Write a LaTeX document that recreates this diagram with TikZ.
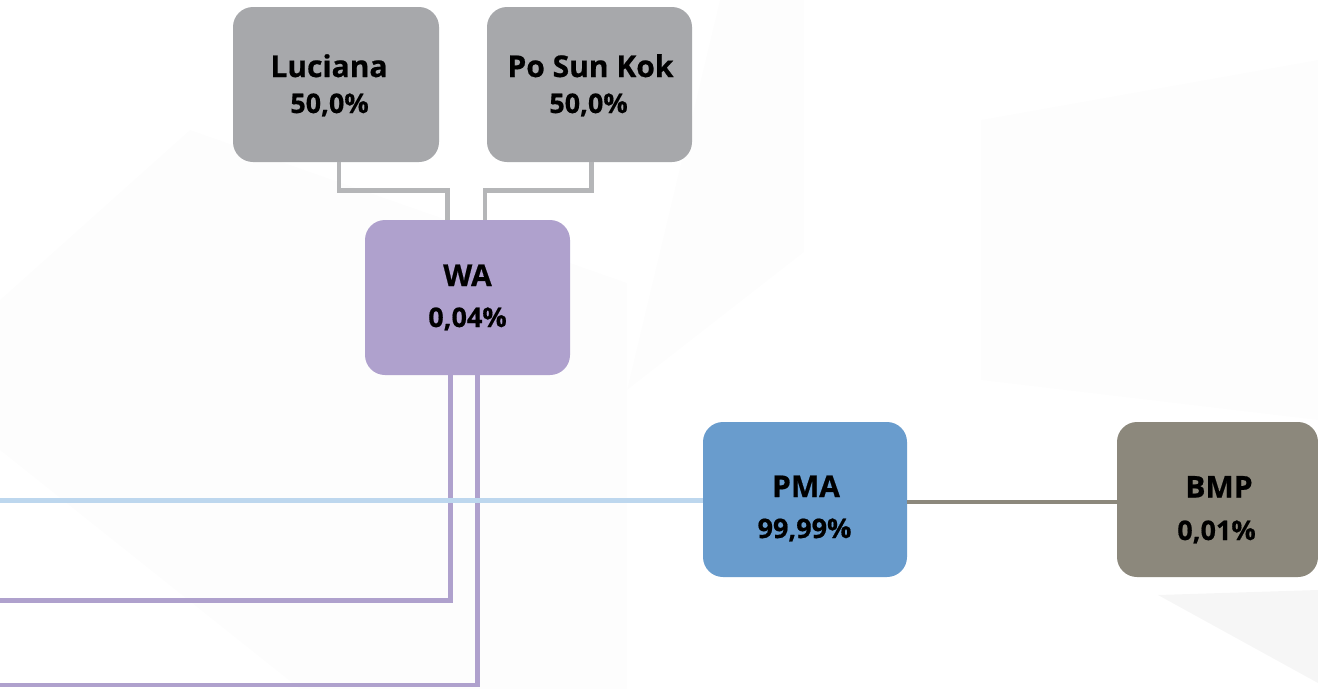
\documentclass[tikz,border=0pt]{standalone}
\usepackage{fontspec}
\setmainfont{Open Sans}[BoldFeatures={FakeBold=0.6}]
\begin{document}
\begin{tikzpicture}[x=1pt,y=-1pt,
  box/.style={rounded corners=20pt, minimum width=205pt, minimum height=155pt,
    inner sep=0pt, outer sep=0pt},
  greybox/.style={box, fill=boxgrey},
  purplebox/.style={box, fill=boxpurple},
  bluebox/.style={box, fill=boxblue},
  taupebox/.style={box, fill=boxtaupe},
  nametxt/.style={anchor=base, inner sep=0pt, font=\bfseries\fontsize{30}{32}\selectfont},
  pcttxt/.style={anchor=base, inner sep=0pt, font=\bfseries\fontsize{27}{29}\selectfont},
  link/.style={line width=4.8pt, line join=miter},
  greylink/.style={link, draw=linegrey},
  purplelink/.style={link, draw=boxpurple},
  bluelink/.style={link, draw=lineblue},
  taupelink/.style={link, draw=boxtaupe},
  facet/.style={fill=black, draw=none}
]
\definecolor{boxgrey}{HTML}{A7A8AB}
\definecolor{linegrey}{HTML}{B5B6B8}
\definecolor{boxpurple}{HTML}{AFA1CD}
\definecolor{boxblue}{HTML}{699CCD}
\definecolor{lineblue}{HTML}{BDD7EE}
\definecolor{boxtaupe}{HTML}{8C887C}

% canvas
\fill[white] (0,0) rectangle (1318,689);
\useasboundingbox (0,0) rectangle (1318,689);

% faint faceted backdrop
\fill[facet, opacity=0.035] (1158,595) -- (1318,590) -- (1318,683) -- cycle;
\fill[facet, opacity=0.008] (627,390) -- (804,252) -- (804,0) -- (720,0) -- cycle;
\fill[facet, opacity=0.006] (627,283) -- (627,689) -- (300,689) -- (0,450) -- (0,300) -- (190,130) -- cycle;
\fill[facet, opacity=0.006] (981,120) -- (1318,60) -- (1318,420) -- (981,380) -- cycle;

% entities
\node[greybox, minimum width=206pt] (luc) at (336,84.5) {};
\node[greybox] (psk) at (589.5,84.5) {};
\node[purplebox] (wa) at (467.5,297.5) {};
\node[bluebox, minimum width=204pt] (pma) at (805,499.5) {};
\node[taupebox, minimum width=201pt] (bmp) at (1217.5,499.5) {};

% open ends at the left margin
\coordinate (endblue) at (0,500.5);
\coordinate (endwa1) at (0,600.5);
\coordinate (endwa2) at (0,685);

% shareholders of WA
\draw[greylink] ([xshift=3pt]luc.south) -- ++(0,28.5) -| ([xshift=-20pt]wa.north);
\draw[greylink] ([xshift=2pt]psk.south) -- ++(0,28.5) -| ([xshift=17.5pt]wa.north);

% WA holdings
\draw[purplelink] ([xshift=-16.7pt]wa.south) |- (endwa1);
\draw[purplelink] ([xshift=10pt]wa.south) |- (endwa2);

% PMA links
\draw[bluelink] ([yshift=-1pt]pma.west) -- (endblue);
\draw[taupelink] ([yshift=-2.5pt]pma.east) -- ([yshift=-2.5pt]bmp.west);

% labels
\node[nametxt] (luc-n) at (329,77) {Luciana};
\node[pcttxt] (luc-p) at (329.5,113) {50,0\%};
\node[nametxt] (psk-n) at (590.5,77) {Po Sun Kok};
\node[pcttxt] (psk-p) at (588.5,113) {50,0\%};
\node[nametxt] (wa-n) at (467.5,286) {WA};
\node[pcttxt] (wa-p) at (467.5,327) {0,04\%};
\node[nametxt] (pma-n) at (806,497) {PMA};
\node[pcttxt] (pma-p) at (804.5,538) {99,99\%};
\node[nametxt] (bmp-n) at (1219,497.5) {BMP};
\node[pcttxt] (bmp-p) at (1216.5,540) {0,01\%};
\end{tikzpicture}
\end{document}
